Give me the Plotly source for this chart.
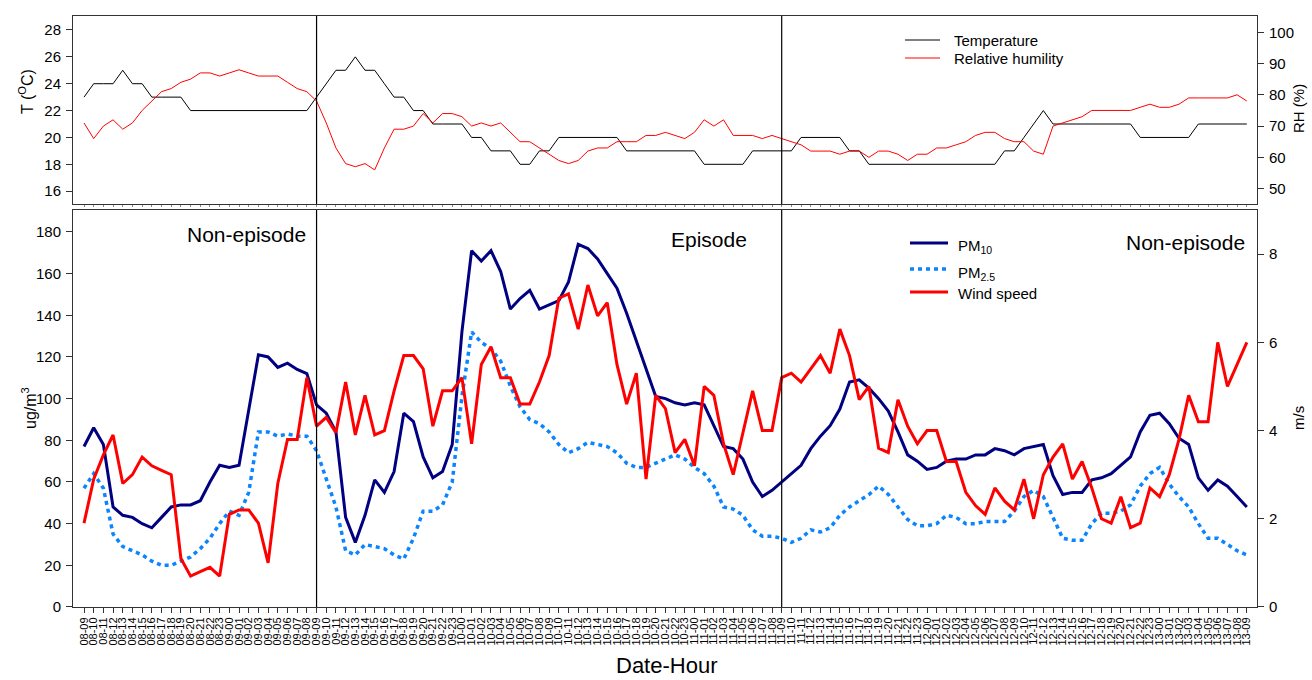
import plotly.graph_objects as go

# Hourly time axis labels "DD-HH", from day 08 hour 09 to day 13 hour 09
hour_labels = []
day, hour = 8, 9
for _ in range(121):
    hour_labels.append(f"{day:02d}-{hour:02d}")
    hour += 1
    if hour == 24:
        hour = 0
        day += 1

# Period boundaries (episode lies between them)
period_bounds = ["09-09", "11-09"]

# Meteorology (top panel)
temperature = [
    23, 24, 24, 24, 25, 24, 24, 23, 23, 23,
    23, 22, 22, 22, 22, 22, 22, 22, 22, 22,
    22, 22, 22, 22, 23, 24, 25, 25, 26, 25,
    25, 24, 23, 23, 22, 22, 21, 21, 21, 21,
    20, 20, 19, 19, 19, 18, 18, 19, 19, 20,
    20, 20, 20, 20, 20, 20, 19, 19, 19, 19,
    19, 19, 19, 19, 18, 18, 18, 18, 18, 19,
    19, 19, 19, 19, 20, 20, 20, 20, 20, 19,
    19, 18, 18, 18, 18, 18, 18, 18, 18, 18,
    18, 18, 18, 18, 18, 19, 19, 20, 21, 22,
    21, 21, 21, 21, 21, 21, 21, 21, 21, 20,
    20, 20, 20, 20, 20, 21, 21, 21, 21, 21,
    21,
]
humidity = [
    71, 66, 70, 72, 69, 71, 75, 78, 81, 82,
    84, 85, 87, 87, 86, 87, 88, 87, 86, 86,
    86, 84, 82, 81, 78, 71, 63, 58, 57, 58,
    56, 63, 69, 69, 70, 74, 71, 74, 74, 73,
    70, 71, 70, 71, 68, 65, 65, 63, 61, 59,
    58, 59, 62, 63, 63, 65, 65, 65, 67, 67,
    68, 67, 66, 68, 72, 70, 72, 67, 67, 67,
    66, 67, 66, 65, 64, 62, 62, 62, 61, 62,
    62, 60, 62, 62, 61, 59, 61, 61, 63, 63,
    64, 65, 67, 68, 68, 66, 65, 65, 62, 61,
    70, 71, 72, 73, 75, 75, 75, 75, 75, 76,
    77, 76, 76, 77, 79, 79, 79, 79, 79, 80,
    78,
]

# Particulate matter (ug/m3) and wind speed (m/s) (bottom panel)
pm10 = [
    77, 86, 78, 48, 44, 43, 40, 38, 43, 48,
    49, 49, 51, 60, 68, 67, 68, 95, 121, 120,
    115, 117, 114, 112, 97, 93, 84, 43, 31, 44,
    61, 55, 65, 93, 89, 72, 62, 65, 78, 132,
    171, 166, 171, 161, 143, 148, 152, 143, 145, 147,
    156, 174, 172, 167, 160, 153, 141, 128, 114, 101,
    100, 98, 97, 98, 97, 87, 77, 76, 71, 60,
    53, 56, 60, 64, 68, 76, 82, 87, 95, 108,
    109, 105, 100, 94, 84, 73, 70, 66, 67, 70,
    71, 71, 73, 73, 76, 75, 73, 76, 77, 78,
    63, 54, 55, 55, 61, 62, 64, 68, 72, 84,
    92, 93, 88, 81, 78, 62, 56, 61, 58, 53,
    48,
]
pm25 = [
    57, 64, 57, 35, 29, 27, 25, 22, 20, 20,
    22, 24, 28, 33, 40, 46, 44, 55, 84, 84,
    82, 83, 82, 82, 75, 61, 48, 27, 25, 30,
    29, 28, 25, 23, 33, 46, 46, 49, 60, 101,
    132, 127, 124, 118, 106, 96, 90, 88, 84, 78,
    74, 76, 79, 78, 77, 74, 69, 67, 67, 69,
    71, 73, 71, 67, 64, 58, 48, 47, 44, 37,
    34, 34, 33, 31, 33, 37, 36, 38, 44, 48,
    51, 54, 58, 54, 48, 42, 39, 39, 40, 44,
    43, 40, 40, 41, 41, 41, 46, 53, 56, 53,
    43, 33, 32, 32, 40, 45, 45, 46, 49, 58,
    64, 67, 59, 53, 48, 40, 33, 33, 30, 27,
    25,
]
wind_speed = [
    1.9, 2.9, 3.45, 3.9, 2.8, 3.0, 3.4, 3.2, 3.1, 3.0,
    1.1, 0.7, 0.8, 0.9, 0.7, 2.1, 2.2, 2.2, 1.9, 1.0,
    2.8, 3.8, 3.8, 5.2, 4.1, 4.3, 3.95, 5.1, 3.9, 4.8,
    3.9, 4.0, 4.9, 5.7, 5.7, 5.4, 4.1, 4.9, 4.9, 5.2,
    3.7, 5.5, 5.9, 5.2, 5.2, 4.6, 4.6, 5.1, 5.7, 7.0,
    7.1, 6.3, 7.3, 6.6, 6.9, 5.5, 4.6, 5.3, 2.9, 4.8,
    4.5, 3.5, 3.8, 3.2, 5.0, 4.8, 3.7, 3.0, 3.95, 4.9,
    4.0, 4.0, 5.2, 5.3, 5.1, 5.4, 5.7, 5.3, 6.3, 5.7,
    4.7, 5.0, 3.6, 3.5, 4.7, 4.1, 3.7, 4.0, 4.0, 3.3,
    3.3, 2.6, 2.3, 2.1, 2.7, 2.4, 2.2, 2.9, 2.0, 3.0,
    3.4, 3.7, 2.9, 3.3, 2.7, 2.0, 1.9, 2.5, 1.8, 1.9,
    2.7, 2.5, 3.0, 3.8, 4.8, 4.2, 4.2, 6.0, 5.0, 5.5,
    6.0,
]

FONT = "Arial, 'Liberation Sans', sans-serif"
FRAME = "#333333"

# Series styling: (values, name, axis pair, line style)
T_LINE = dict(color="black", width=1)
RH_LINE = dict(color="#ff0000", width=1)
PM10_LINE = dict(color="#000080", width=3)
PM25_LINE = dict(color="#0a84ff", width=3.5, dash="4px,4px")
WIND_LINE = dict(color="#ff0000", width=3)

fig = go.Figure()
fig.add_trace(go.Scatter(x=hour_labels, y=temperature, name="Temperature",
                         mode="lines", line=T_LINE, xaxis="x", yaxis="y"))
fig.add_trace(go.Scatter(x=hour_labels, y=humidity, name="Relative humility",
                         mode="lines", line=RH_LINE, xaxis="x", yaxis="y2"))
fig.add_trace(go.Scatter(x=hour_labels, y=pm10, name="PM10",
                         mode="lines", line=PM10_LINE, xaxis="x2", yaxis="y3"))
fig.add_trace(go.Scatter(x=hour_labels, y=pm25, name="PM2.5",
                         mode="lines", line=PM25_LINE, xaxis="x2", yaxis="y3"))
fig.add_trace(go.Scatter(x=hour_labels, y=wind_speed, name="Wind speed",
                         mode="lines", line=WIND_LINE, xaxis="x2", yaxis="y4"))

x_range = [-1.135, 121.05]
tick_font = dict(family=FONT, size=15, color="black")

common_x = dict(type="category", range=x_range, showline=True, linecolor=FRAME,
                linewidth=1, mirror=True, showgrid=False, zeroline=False,
                tickmode="array", tickvals=hour_labels)

fig.update_layout(
    width=1312, height=680,
    margin=dict(l=73, r=55, t=16, b=73),
    paper_bgcolor="white", plot_bgcolor="white",
    font=dict(family=FONT, color="black"),
    showlegend=False,
    xaxis=dict(common_x, anchor="y", domain=[0, 1], ticks="outside", ticklen=2,
               tickcolor="#888888", showticklabels=False),
    yaxis=dict(domain=[0.682, 1], anchor="x", range=[15.05, 29.04],
               tickvals=[16, 18, 20, 22, 24, 26, 28], ticks="outside", ticklen=6,
               tickcolor=FRAME, showline=True, linecolor=FRAME, linewidth=1,
               mirror=True, showgrid=False, zeroline=False, tickfont=tick_font,
               ticklabelstandoff=2),
    yaxis2=dict(overlaying="y", side="right", anchor="x", range=[45.1, 105.2],
                tickvals=[50, 60, 70, 80, 90, 100], ticks="outside", ticklen=6,
                tickcolor=FRAME, showline=True, linecolor=FRAME, showgrid=False,
                zeroline=False, tickfont=tick_font, ticklabelstandoff=2),
    xaxis2=dict(common_x, anchor="y3", domain=[0, 1], ticks="outside", ticklen=5,
                tickcolor=FRAME, ticktext=hour_labels, tickangle=-90,
                tickfont=dict(family=FONT, size=11, color="black")),
    yaxis3=dict(domain=[0, 0.6717], anchor="x2", range=[0, 190.5],
                tickvals=list(range(0, 181, 20)), ticks="outside", ticklen=6,
                tickcolor=FRAME, showline=True, linecolor=FRAME, linewidth=1,
                mirror=True, showgrid=False, zeroline=False, tickfont=tick_font,
                ticklabelstandoff=2),
    yaxis4=dict(overlaying="y3", side="right", anchor="x2", range=[0, 9],
                tickvals=[0, 2, 4, 6, 8], ticks="outside", ticklen=6,
                tickcolor=FRAME, showline=True, linecolor=FRAME, showgrid=False,
                zeroline=False, tickfont=tick_font, ticklabelstandoff=2),
)


def px_x(x):
    return (x - 73) / 1184


def px_y(y):
    return (607 - y) / 591


# Vertical separators between the non-episode and episode periods
shapes = []
for b in period_bounds:
    xi = hour_labels.index(b)
    for xref, yref in (("x", "y domain"), ("x2", "y3 domain")):
        shapes.append(dict(type="line", xref=xref, yref=yref, x0=xi, x1=xi,
                           y0=0, y1=1, line=dict(color="black", width=1.2)))

# Legend keys: (label, line style, key x-start, key x-end, row y, text x)
legend_rows = [
    ("Temperature", T_LINE, 905, 940, 40, 952),
    ("Relative humility", RH_LINE, 905, 940, 58, 952),
    ("PM<sub>10</sub>", PM10_LINE, 910, 948, 243, 956),
    ("PM<sub>2.5</sub>", PM25_LINE, 910, 948, 269, 956),
    ("Wind speed", WIND_LINE, 910, 948, 292, 956),
]

annotations = []
for label, style, xa, xb, yr, xt in legend_rows:
    shapes.append(dict(type="line", xref="paper", yref="paper",
                       x0=px_x(xa), x1=px_x(xb), y0=px_y(yr), y1=px_y(yr),
                       line=style))
    y_text = yr + 1 if "<sub>" not in label else yr + 4
    annotations.append(dict(text=label, x=px_x(xt), y=px_y(y_text), xanchor="left",
                            yanchor="middle", font=dict(size=15)))
fig.update_layout(shapes=shapes)

annotations += [
    dict(text="Non-episode", x=px_x(308), y=px_y(234), xanchor="right", yanchor="middle",
         font=dict(size=21)),
    dict(text="Episode", x=px_x(708.7), y=px_y(239), xanchor="center", yanchor="middle",
         font=dict(size=21)),
    dict(text="Non-episode", x=px_x(1247), y=px_y(242), xanchor="right", yanchor="middle",
         font=dict(size=21)),
    dict(text="T (<sup>O</sup>C)", x=px_x(26), y=px_y(92), textangle=-90,
         xanchor="center", yanchor="middle", font=dict(size=16)),
    dict(text="RH (%)", x=px_x(1298), y=px_y(109), textangle=-90,
         xanchor="center", yanchor="middle", font=dict(size=15)),
    dict(text="ug/m<sup>3</sup>", x=px_x(29), y=px_y(408), textangle=-90,
         xanchor="center", yanchor="middle", font=dict(size=16)),
    dict(text="m/s", x=px_x(1298), y=px_y(418), textangle=-90,
         xanchor="center", yanchor="middle", font=dict(size=15)),
    dict(text="Date-Hour", x=px_x(666), y=px_y(665), xanchor="center", yanchor="middle",
         font=dict(size=22)),
]
for a in annotations:
    a.update(xref="paper", yref="paper", showarrow=False)
    a["font"] = dict(a["font"], family=FONT, color="black")
fig.update_layout(annotations=annotations)

fig.write_html("out.html")
